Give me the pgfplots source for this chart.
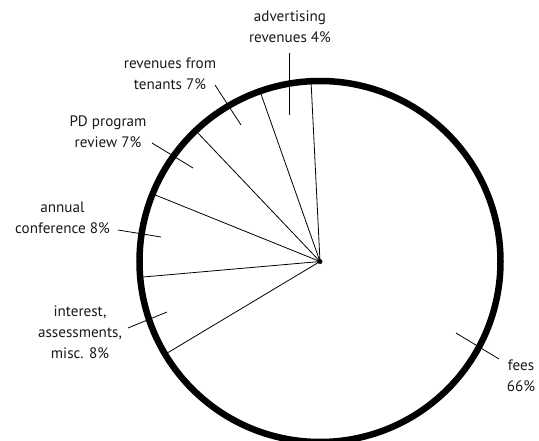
\documentclass[border=0pt]{standalone}
\usepackage{pgfplots}
\pgfplotsset{compat=1.18}
\usepackage{pgfplotstable}
\usepgfplotslibrary{polar}
\usepackage{fontspec}
\setmainfont{PT Sans}

% slice boundaries, cumulative share in percent (start at the top, counter-clockwise)
% advertising 4.6, tenants 6.7, PD review 6.8, conference 7.5, interest 7.2, fees 67.2
\pgfplotstableread{
cum r
0    1
0    0
4.6  1
4.6  0
11.3 1
11.3 0
18.1 1
18.1 0
25.6 1
25.6 0
32.8 1
}\boundaries

\begin{document}
\begin{tikzpicture}[x=1bp,y=1bp,
    lbl/.style={font=\fontsize{15.2}{21}\selectfont, align=center, inner sep=0pt, text=black!90}]
% pie
\begin{polaraxis}[
    at={(320bp,179.5bp)}, anchor=center,
    width=361bp, height=361bp, scale only axis,
    ymin=0, ymax=1,
    xtick=\empty, ytick=\empty,
    separate axis lines,
    x axis line style={line width=6.5bp},
    y axis line style={draw=none},
    clip=false,
]
\addplot[black, line width=0.8bp, mark=none]
    table[x expr=92.85+3.6*\thisrow{cum}, y=r] {\boundaries};
\addplot[only marks, mark=*, mark size=2.2bp, black] coordinates {(0,0)};
\end{polaraxis}

% labels, in pixel units of the picture
\begin{axis}[
    at={(0bp,0bp)}, anchor=south west,
    width=539bp, height=441bp, scale only axis,
    xmin=0, xmax=539, ymin=0, ymax=441, y dir=reverse,
    hide axis, clip=false,
]
\addplot[black, line width=0.8bp] coordinates {(289,53) (289,115)};
\addplot[black, line width=0.8bp] coordinates {(215,85) (241,125)};
\addplot[black, line width=0.8bp] coordinates {(152,143) (193,168)};
\addplot[black, line width=0.8bp] coordinates {(118,230) (161,237)};
\addplot[black, line width=0.8bp] coordinates {(128,328) (167,312)};
\addplot[black, line width=0.8bp] coordinates {(456,333) (499,359)};

\node[lbl] at (axis cs:290,27) {advertising\\revenues 4\%};
\node[lbl] at (axis cs:170,73.5) {revenues from\\tenants 7\%};
\node[lbl] at (axis cs:108,131.5) {PD program\\review 7\%};
\node[lbl] at (axis cs:62.5,217.5) {annual\\conference 8\%};
\node[lbl] at (axis cs:80,332) {interest,\\assessments,\\misc. 8\%};
\node[lbl] at (axis cs:521,375.5) {fees\\66\%};
\end{axis}
\pgfresetboundingbox
\path[use as bounding box] (0bp,0bp) rectangle (539bp,441bp);
\end{tikzpicture}
\end{document}
